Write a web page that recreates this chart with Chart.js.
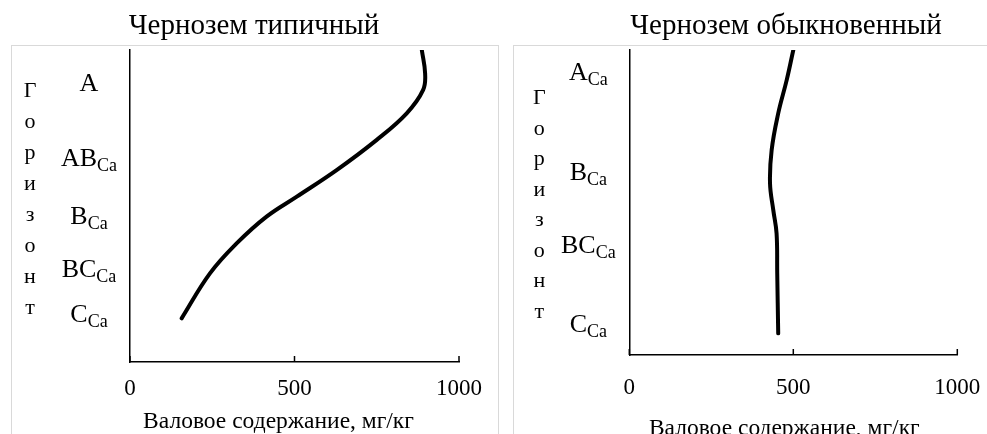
<!DOCTYPE html>
<html>
<head>
<meta charset="utf-8">
<script src="https://cdn.jsdelivr.net/npm/chart.js@4.4.0/dist/chart.umd.min.js"></script>
<style>
  html, body { margin: 0; padding: 0; background: #fff; width: 987px; height: 434px; overflow: hidden; }
  .frame { position: absolute; border: 1px solid #d9d9d9; }
  #frameTypical { left: 11px; top: 45px; width: 486px; height: 420px; }
  #frameOrdinary { left: 513px; top: 45px; width: 500px; height: 420px; }
  canvas { position: absolute; top: 0; }
  #typical { left: 0; }
  #ordinary { left: 505px; }
</style>
</head>
<body>
<div class="frame" id="frameTypical"></div>
<div class="frame" id="frameOrdinary"></div>
<canvas id="typical" width="508" height="460"></canvas>
<canvas id="ordinary" width="498" height="460"></canvas>
<script>
// depth is in relative units, 0 = top of profile, 100 = x axis
const typicalDepth = [0, 7.5, 12.8, 20.3, 28.8, 38.5, 47.0, 53.4, 62.0, 71.6, 86.0]
const typicalValues = [887, 897, 891, 841, 750, 628, 507, 415, 324, 243, 157]
const typicalHorizons = [['A', ''], ['AB', 'Ca'], ['B', 'Ca'], ['BC', 'Ca'], ['C', 'Ca']]
const typicalHorizonDepth = [10.3, 34.6, 52.9, 69.9, 84.6]

const ordinaryDepth = [0, 9.8, 20.8, 32.8, 43.7, 52.5, 60.1, 73.2, 92.9]
const ordinaryValues = [500, 480, 454, 434, 429, 439, 449, 451, 454]
const ordinaryHorizons = [['A', 'Ca'], ['B', 'Ca'], ['BC', 'Ca'], ['C', 'Ca']]
const ordinaryHorizonDepth = [7.0, 39.7, 63.9, 89.8]

const xTicks = [0, 500, 1000]
const axisTitleY = 'Горизонт'
const axisTitleX = 'Валовое содержание, мг/кг'

const serif = '"Liberation Serif", "Times New Roman", serif'

const horizonLabels = {
    id: 'horizonLabels',
    afterDraw: function (chart, args, opts) {
        const ctx = chart.ctx
        const area = chart.chartArea
        const yScale = chart.scales.y
        const xScale = chart.scales.x
        ctx.save()
        ctx.fillStyle = '#000'
        ctx.textBaseline = 'alphabetic'
        ctx.textAlign = 'left'

        opts.labels.forEach((lab, i) => {
            const cy = yScale.getPixelForValue(opts.depths[i])
            ctx.font = '26px ' + serif
            const mainW = ctx.measureText(lab[0]).width
            ctx.font = '18px ' + serif
            const subW = lab[1] ? ctx.measureText(lab[1]).width : 0
            const x0 = area.left - 41 - (mainW + subW) / 2
            const base = cy + 8.5
            ctx.font = '26px ' + serif
            ctx.fillText(lab[0], x0, base)
            if (lab[1]) {
                ctx.font = '18px ' + serif
                ctx.fillText(lab[1], x0 + mainW, base + 5)
            }
        })

        // "Горизонт" written letter by letter
        ctx.font = '22px ' + serif
        ctx.textAlign = 'center'
        Array.from(axisTitleY).forEach((ch, i) => {
            ctx.fillText(ch, area.left - opts.titleOffset, area.top + opts.titleTop + i * opts.titleStep)
        })

        // x axis title, placed a bit left of centre like the original
        ctx.font = '23.5px ' + serif
        ctx.fillText(axisTitleX, (area.left + area.right) / 2 - opts.xTitleShift, area.bottom + opts.xTitleDrop)

        // small tick marks pointing up into the plot
        ctx.strokeStyle = '#000'
        ctx.lineWidth = 1.5
        xScale.ticks.forEach(t => {
            const px = xScale.getPixelForValue(t.value)
            ctx.beginPath()
            ctx.moveTo(px, area.bottom)
            ctx.lineTo(px, area.bottom - 6)
            ctx.stroke()
        })
        ctx.restore()
    }
}

function makeChart(id, title, values, depths, horizons, horizonDepths, p) {
    const ctx = document.getElementById(id).getContext('2d')
    return new Chart(ctx, {
        type: 'line',
        data: {
            datasets: [{
                data: values.map((v, i) => ({ x: v, y: depths[i] })),
                borderColor: '#000',
                borderWidth: 4,
                borderCapStyle: 'round',
                pointRadius: 0,
                fill: false,
                tension: 0.4,
                clip: 0
            }]
        },
        options: {
            indexAxis: 'y',
            responsive: false,
            animation: false,
            events: [],
            layout: { padding: { left: p.padLeft, right: p.padRight, top: 0, bottom: 0 } },
            plugins: {
                legend: { display: false },
                tooltip: { enabled: false },
                title: {
                    display: true,
                    text: title,
                    color: '#000',
                    font: { family: serif, size: 29, weight: 'normal' },
                    padding: { top: 9.1, bottom: 6.1 }
                },
                horizonLabels: {
                    labels: horizons,
                    depths: horizonDepths,
                    titleOffset: p.titleOffset,
                    titleTop: p.titleTop,
                    titleStep: p.titleStep,
                    xTitleShift: p.xTitleShift,
                    xTitleDrop: p.xTitleDrop
                }
            },
            scales: {
                x: {
                    type: 'linear',
                    min: 0,
                    max: 1000,
                    afterBuildTicks: scale => { scale.ticks = xTicks.map(v => ({ value: v })) },
                    afterFit: scale => { scale.height = p.xHeight },
                    grid: { display: false, drawTicks: false },
                    border: { display: true, color: '#000', width: 1.5 },
                    ticks: {
                        color: '#000',
                        font: { family: serif, size: 23 },
                        padding: p.tickPad,
                        maxRotation: 0,
                        callback: v => String(v)
                    },
                    title: { display: false }
                },
                y: {
                    type: 'linear',
                    min: 0,
                    max: 100,
                    reverse: true,
                    afterFit: scale => { scale.width = p.yWidth },
                    grid: { display: false, drawTicks: false },
                    border: { display: true, color: '#000', width: 1.5 },
                    ticks: { display: false }
                }
            }
        },
        plugins: [horizonLabels]
    })
}

makeChart('typical', 'Чернозем типичный', typicalValues, typicalDepth,
    typicalHorizons, typicalHorizonDepth,
    { padLeft: 49, padRight: 49, yWidth: 81, xHeight: 98, tickPad: 12.7,
      titleOffset: 100, titleTop: 47, titleStep: 31, xTitleShift: 16, xTitleDrop: 66 })

makeChart('ordinary', 'Чернозем обыкновенный', ordinaryValues, ordinaryDepth,
    ordinaryHorizons, ordinaryHorizonDepth,
    { padLeft: 109.7, padRight: 45.7, yWidth: 14.6, xHeight: 105, tickPad: 18.7,
      titleOffset: 90, titleTop: 54, titleStep: 30.5, xTitleShift: 9, xTitleDrop: 80 })
</script>
</body>
</html>
